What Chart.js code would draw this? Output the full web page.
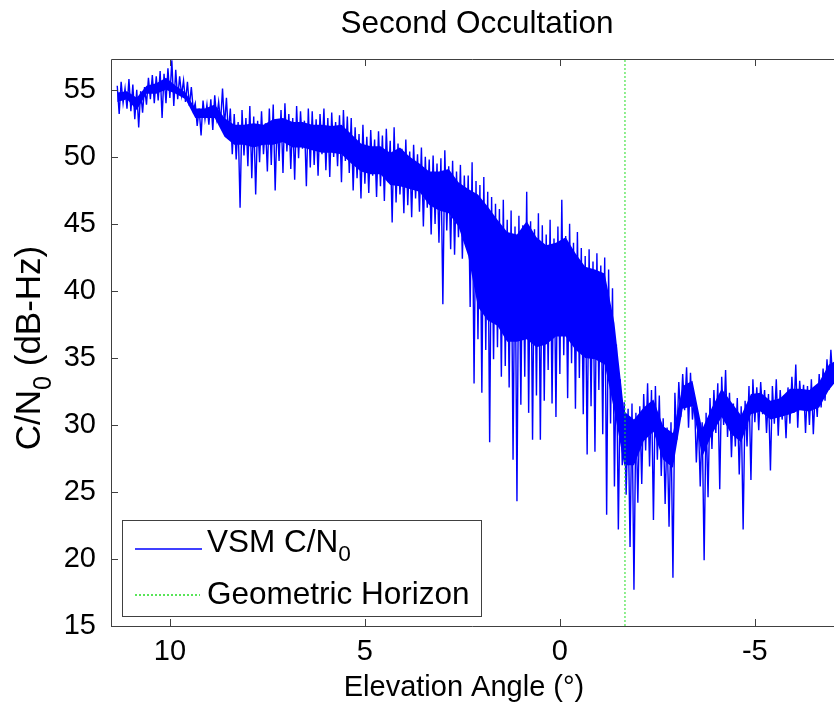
<!DOCTYPE html>
<html>
<head>
<meta charset="utf-8">
<script src="https://cdn.jsdelivr.net/npm/chart.js@4/dist/chart.umd.min.js"></script>
<style>
  html, body { margin: 0; padding: 0; background: #fff; }
  canvas { display: block; }
</style>
</head>
<body>
<canvas id="occultationChart" width="834" height="705"></canvas>
<script>
  // Elevation grid: one peak sample every 0.1 deg, trough sample half a step later
  const X_START = 11.35;
  const X_STEP = 0.1;
  const CORE_STEP = 0.25;
  const X_MIN = -7.03;
  const X_MAX = 11.51;
  const Y_MIN = 15;
  const Y_MAX = 57.3;
  const horizonAngle = -1.67;

  const xTicks = [10, 5, 0, -5];
  const yTicks = [15, 20, 25, 30, 35, 40, 45, 50, 55];

  // C/N0 peaks (dB-Hz), one per 0.1 deg
  const cn0Peaks = [
    55.3, 55.6, 55.1, 55.8, 55.4, 55.0, 54.9, 55.2, 55.9, 56.1,
    56.0, 56.4, 56.2, 56.6, 57.2, 56.5, 56.0, 55.7, 55.6, 55.2,
    54.0, 53.6, 54.2, 53.9, 54.3, 54.6, 54.1, 55.1, 54.4, 53.6,
    53.2, 52.6, 53.5, 52.9, 53.8, 53.0, 52.7, 53.4, 52.5, 53.6,
    53.9, 52.8, 53.5, 54.0, 53.2, 52.9, 53.8, 53.4, 52.7, 53.6,
    53.4, 52.8, 53.2, 53.6, 52.9, 53.3, 52.6, 53.1, 53.5, 53.0,
    52.9, 52.2, 51.7, 52.4, 51.5, 52.0, 51.3, 51.9, 51.6, 52.1,
    51.2, 52.2, 51.0, 50.6, 51.3, 50.4, 50.9, 50.2, 50.7, 50.0,
    49.8, 50.1, 49.5, 49.9, 50.5, 49.3, 49.7, 48.9, 49.4, 48.6,
    48.6, 49.6, 48.2, 47.9, 48.5, 47.4, 47.0, 46.5, 46.1, 46.8,
    45.3, 46.0, 44.8, 45.6, 44.9, 47.4, 45.2, 44.6, 45.8, 44.9,
    44.2, 45.3, 43.9, 44.8, 46.8, 44.1, 45.0, 43.6, 44.4, 43.2,
    42.6, 43.1, 42.2, 42.8, 41.9, 42.5, 41.6, 40.2, 36.0, 33.4,
    31.7, 31.2, 31.6, 30.9, 31.4, 32.3, 33.1, 32.6, 32.9, 32.2,
    30.5, 29.8, 30.2, 32.4, 33.2, 33.8, 34.3, 33.9, 32.1, 30.6,
    30.2, 30.9, 32.0, 32.6, 33.1, 33.6, 34.1, 32.4, 31.6, 32.0,
    31.4, 31.8, 32.9, 33.4, 32.8, 33.2, 32.6, 32.3, 32.9, 33.4,
    32.6, 32.2, 32.8, 33.6, 34.5, 33.3, 33.0, 32.9, 33.4, 32.7,
    33.8, 34.2, 34.9, 35.6
  ];

  // C/N0 troughs and fades (dB-Hz), one per 0.1 deg
  const cn0Troughs = [
    53.2, 54.0, 53.6, 53.4, 52.8, 52.2, 53.3, 53.9, 54.3, 54.0,
    54.2, 52.9, 54.0, 54.4, 53.8, 54.3, 54.6, 54.1, 53.8, 53.5,
    52.3, 51.6, 52.8, 52.4, 52.0, 52.9, 52.6, 52.3, 51.7, 50.2,
    49.8, 46.2, 50.1, 49.3, 48.4, 47.2, 49.6, 50.2, 48.9, 49.4,
    47.5, 49.7, 48.8, 50.4, 49.1, 48.3, 49.9, 50.6, 47.8, 49.2,
    49.4, 48.6, 50.2, 49.0, 48.5, 50.0, 49.3, 48.1, 49.7, 48.8,
    47.5, 48.4, 46.9, 48.0, 47.3, 48.6, 47.0, 47.8, 46.7, 48.1,
    45.1, 46.6, 47.2, 45.8, 46.4, 45.5, 46.9, 45.9, 44.8, 46.2,
    44.2, 45.0, 43.6, 39.0, 44.5, 43.1, 42.7, 44.0, 42.4, 43.3,
    38.8, 33.1, 36.4, 32.4, 35.6, 28.7, 34.9, 35.8, 33.6, 34.4,
    32.8, 27.4, 24.3, 31.5, 33.6, 30.9, 28.9, 32.2, 28.9, 31.8,
    34.1, 31.6, 30.6, 33.8, 35.2, 32.0, 34.6, 31.2, 33.5, 30.8,
    27.8, 31.4, 28.0, 32.6, 29.3, 23.3, 30.1, 25.4, 22.2, 27.0,
    24.8, 20.9, 17.7, 24.2, 25.6, 28.1, 26.9, 22.9, 27.4, 26.2,
    24.1, 22.4, 18.6, 28.9, 30.6, 31.1, 29.8, 30.4, 27.2, 25.4,
    19.9, 24.6, 28.2, 29.4, 25.2, 30.0, 29.1, 27.6, 28.4, 26.3,
    22.2, 28.4, 25.9, 30.2, 29.6, 30.8, 29.4, 26.6, 30.1, 29.2,
    30.4, 29.0, 30.1, 30.9, 29.8, 31.2, 29.4, 30.0, 29.3, 30.6,
    31.3, 31.8, 32.6, 33.2
  ];

  // Dense core of the trace (dB-Hz), one pair per 0.25 deg
  const coreHigh = [
    54.8, 54.9, 54.4, 55.3, 55.5, 55.9, 55.3, 54.8, 53.6, 53.6,
    53.9, 52.9, 52.4, 52.4, 52.5, 52.4, 52.8, 52.9, 52.6, 52.6,
    52.4, 52.4, 52.3, 52.4, 51.7, 51.0, 50.8, 50.8, 50.3, 50.7,
    50.0, 49.5, 48.9, 48.9, 49.1, 48.1, 47.6, 47.2, 46.3, 45.3,
    44.4, 44.2, 45.2, 44.0, 43.4, 43.6, 44.0, 42.8, 41.8, 41.6,
    41.3, 37.6, 31.0, 30.4, 31.3, 31.9, 29.9, 29.4, 32.9, 33.3,
    29.7, 31.3, 32.7, 31.7, 30.7, 32.3, 32.4, 31.8, 32.0, 32.7,
    32.7, 32.6, 33.2, 34.5, 34.9
  ];
  const coreLow = [
    54.1, 54.3, 53.5, 54.7, 54.7, 55.0, 54.7, 54.3, 52.9, 52.9,
    52.9, 51.5, 50.9, 50.9, 50.7, 50.9, 50.9, 51.1, 50.7, 50.7,
    50.5, 50.3, 50.3, 50.2, 49.5, 48.9, 48.7, 48.7, 47.9, 47.8,
    47.6, 47.4, 46.4, 46.0, 45.8, 44.8, 42.6, 38.8, 37.8, 37.4,
    36.2, 36.2, 36.4, 35.8, 36.0, 36.6, 36.6, 35.6, 35.0, 34.9,
    34.5, 31.0, 27.0, 27.0, 28.8, 29.5, 27.4, 26.8, 31.2, 31.4,
    27.6, 29.3, 30.6, 29.3, 28.7, 30.8, 31.0, 30.4, 30.6, 30.8,
    31.1, 31.0, 31.3, 32.6, 33.5
  ];

  const FONT = "'Liberation Sans', Arial, Helvetica, sans-serif";
  const AXIS_COLOR = '#404040';
  const LINE_BLUE = '#0000ff';
  const LINE_GREEN = '#22dd22';

  // Interleave peaks and troughs into one trace
  function buildTrace() {
    const points = [];
    for (let k = 0; k < cn0Peaks.length; k++) {
      const angle = X_START - k * X_STEP;
      points.push({ x: angle, y: cn0Peaks[k] });
      points.push({ x: angle - X_STEP / 2, y: cn0Troughs[k] });
    }
    return points;
  }

  function buildCore(values) {
    return values.map((v, k) => ({ x: X_START - k * CORE_STEP, y: v }));
  }

  // Draw text made of normal and subscript parts
  function drawParts(ctx, parts, x, y, size) {
    let cx = x;
    parts.forEach(p => {
      const s = p.sub ? size * 0.72 : size;
      ctx.font = s + 'px ' + FONT;
      ctx.fillText(p.t, cx, p.sub ? y + size * 0.3 : y);
      cx += ctx.measureText(p.t).width;
    });
  }

  function partsWidth(ctx, parts, size) {
    let w = 0;
    parts.forEach(p => {
      ctx.font = (p.sub ? size * 0.72 : size) + 'px ' + FONT;
      w += ctx.measureText(p.t).width;
    });
    return w;
  }

  // Box, inward ticks, titles and legend in MATLAB style
  const decorPlugin = {
    id: 'decor',
    afterDraw(chart) {
      const ctx = chart.ctx;
      const a = chart.chartArea;
      const xs = chart.scales.x;
      const ys = chart.scales.y;
      ctx.save();

      // axes box (right edge is off the page)
      ctx.strokeStyle = AXIS_COLOR;
      ctx.lineWidth = 1;
      ctx.beginPath();
      ctx.moveTo(a.right, a.top + 0.5);
      ctx.lineTo(a.left + 0.5, a.top + 0.5);
      ctx.lineTo(a.left + 0.5, a.bottom + 0.5);
      ctx.lineTo(a.right, a.bottom + 0.5);
      ctx.stroke();

      // inward ticks
      ctx.beginPath();
      xTicks.forEach(v => {
        const px = Math.round(xs.getPixelForValue(v)) + 0.5;
        ctx.moveTo(px, a.bottom);
        ctx.lineTo(px, a.bottom - 7);
        ctx.moveTo(px, a.top);
        ctx.lineTo(px, a.top + 7);
      });
      yTicks.forEach(v => {
        const py = Math.round(ys.getPixelForValue(v)) + 0.5;
        ctx.moveTo(a.left, py);
        ctx.lineTo(a.left + 7, py);
      });
      ctx.stroke();

      ctx.fillStyle = '#000';
      ctx.textBaseline = 'alphabetic';

      // title
      ctx.font = '31.5px ' + FONT;
      ctx.textAlign = 'center';
      ctx.fillText('Second Occultation', 477, 33);

      // x axis title
      ctx.font = '29px ' + FONT;
      ctx.fillText('Elevation Angle (\u00B0)', 464, 696);

      // y axis title with subscript
      ctx.textAlign = 'left';
      const yParts = [{ t: 'C/N' }, { t: '0', sub: true }, { t: ' (dB-Hz)' }];
      const yw = partsWidth(ctx, yParts, 35);
      ctx.save();
      ctx.translate(40, 348);
      ctx.rotate(-Math.PI / 2);
      drawParts(ctx, yParts, -yw / 2, 0, 35);
      ctx.restore();

      // legend
      ctx.fillStyle = '#fff';
      ctx.fillRect(122.5, 520.5, 359, 96);
      ctx.strokeStyle = AXIS_COLOR;
      ctx.strokeRect(122.5, 520.5, 359, 96);

      ctx.lineWidth = 1.5;
      ctx.strokeStyle = LINE_BLUE;
      ctx.setLineDash([]);
      ctx.beginPath();
      ctx.moveTo(135, 549);
      ctx.lineTo(202, 549);
      ctx.stroke();

      ctx.strokeStyle = LINE_GREEN;
      ctx.setLineDash([2, 2]);
      ctx.beginPath();
      ctx.moveTo(135, 595);
      ctx.lineTo(200, 595);
      ctx.stroke();
      ctx.setLineDash([]);

      ctx.fillStyle = '#000';
      drawParts(ctx, [{ t: 'VSM C/N' }, { t: '0', sub: true }], 207, 552, 31.5);
      ctx.font = '31.5px ' + FONT;
      ctx.fillText(chart.data.datasets[1].label, 207, 604);

      ctx.restore();
    }
  };

  document.addEventListener('DOMContentLoaded', function() {
    const ctx = document.getElementById('occultationChart').getContext('2d');

    new Chart(ctx, {
      type: 'line',
      data: {
        datasets: [
          {
            label: 'VSM C/N0',
            data: buildTrace(),
            borderColor: LINE_BLUE,
            borderWidth: 1.4,
            pointRadius: 0,
            tension: 0,
            order: 1
          },
          {
            label: 'Geometric Horizon',
            data: [{ x: horizonAngle, y: Y_MIN }, { x: horizonAngle, y: Y_MAX }],
            borderColor: LINE_GREEN,
            borderDash: [2, 2],
            borderWidth: 1,
            pointRadius: 0,
            order: 0
          },
          {
            label: 'core high',
            data: buildCore(coreHigh),
            borderColor: LINE_BLUE,
            borderWidth: 0,
            pointRadius: 0,
            fill: false,
            order: 2
          },
          {
            label: 'core low',
            data: buildCore(coreLow),
            borderColor: LINE_BLUE,
            backgroundColor: LINE_BLUE,
            borderWidth: 0,
            pointRadius: 0,
            fill: '-1',
            order: 2
          }
        ]
      },
      options: {
        responsive: false,
        animation: false,
        layout: { padding: { top: 59, left: 0, right: 0, bottom: 0 } },
        plugins: {
          legend: { display: false },
          tooltip: { enabled: false },
          title: { display: false }
        },
        scales: {
          x: {
            type: 'linear',
            reverse: true,
            min: X_MIN,
            max: X_MAX,
            grid: { display: false },
            border: { display: false },
            ticks: {
              color: '#000',
              font: { family: FONT, size: 29 },
              padding: 1,
              maxRotation: 0
            },
            afterBuildTicks: axis => { axis.ticks = xTicks.map(v => ({ value: v })); },
            afterFit: axis => { axis.height = 79; }
          },
          y: {
            type: 'linear',
            min: Y_MIN,
            max: Y_MAX,
            grid: { display: false },
            border: { display: false },
            ticks: {
              color: '#000',
              font: { family: FONT, size: 29 },
              padding: 7
            },
            afterBuildTicks: axis => { axis.ticks = yTicks.map(v => ({ value: v })); },
            afterFit: axis => { axis.width = 111; }
          }
        }
      },
      plugins: [decorPlugin]
    });
  });
</script>
</body>
</html>
